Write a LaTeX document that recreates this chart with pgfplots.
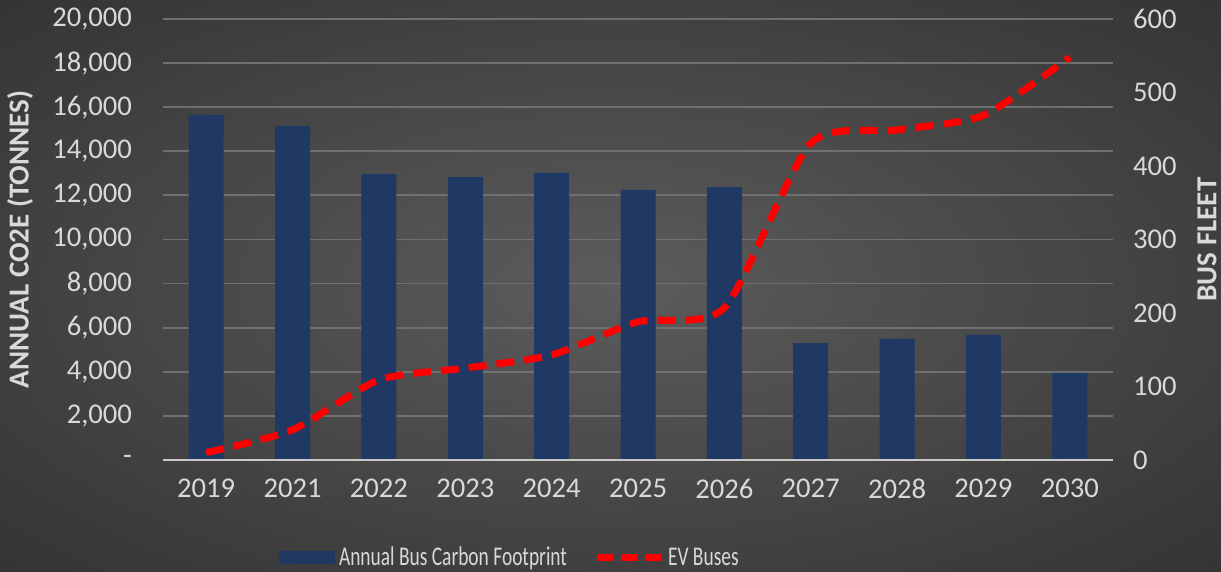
\documentclass[border=0pt]{standalone}
\usepackage{pgfplots}
\pgfplotsset{compat=1.18}
\usepackage{fontspec}
\setmainfont{Carlito}
\newfontfamily\legfont[FakeStretch=0.72]{Carlito}
\definecolor{navy}{RGB}{31,56,100}
\definecolor{txt}{RGB}{217,217,217}
\definecolor{gridc}{RGB}{112,112,112}
\definecolor{axc}{RGB}{200,200,200}
\definecolor{bgin}{RGB}{92,92,92}
\definecolor{bgmid}{RGB}{60,60,60}
\definecolor{bgout}{RGB}{32,32,32}
\definecolor{evred}{RGB}{255,0,0}
\pgfdeclareradialshading{bgshade}{\pgfpoint{0bp}{0bp}}{color(0bp)=(bgin); color(28bp)=(bgmid); color(50bp)=(bgout!80!bgmid); color(72bp)=(bgout)}
\begin{document}
\begin{tikzpicture}
\path[shading=bgshade] (0,0) rectangle (610.5pt,286pt);
\useasboundingbox (0,0) rectangle (610.5pt,286pt);
\begin{axis}[
  at={(81.5pt,56pt)}, anchor=south west,
  width=475pt, height=220.5pt, scale only axis,
  xmin=-0.5, xmax=10.5, ymin=0, ymax=20000,
  scaled y ticks=false,
  axis line style={draw=none},
  major tick length=0pt,
  xtick={0,...,10},
  xticklabels={\mbox{2019},\mbox{2021},\mbox{2022},\mbox{2023},\mbox{2024},\mbox{2025},\mbox{2026},\mbox{2027},\mbox{2028},\mbox{2029},\mbox{2030}},
  ytick={0,2000,...,20000},
  yticklabels={\mbox{-},\mbox{2,000},\mbox{4,000},\mbox{6,000},\mbox{8,000},\mbox{10,000},\mbox{12,000},\mbox{14,000},\mbox{16,000},\mbox{18,000},\mbox{20,000}},
  ymajorgrids, grid style={gridc, line width=0.9pt},
  tick label style={text=txt, font=\fontsize{14.3}{15}\selectfont},
  xticklabel style={yshift=-6pt},
  yticklabel style={xshift=-12pt},
  ylabel={ANNUAL CO2E (TONNES)},
  ylabel style={at={(axis description cs:-0.1505,0.5)}, anchor=center, text=txt, font=\bfseries\fontsize{14.5}{15}\selectfont},
  clip=false,
]
\addplot[ybar, bar width=17.5pt, fill=navy, draw=none] coordinates {
(0,15650) (1,15150) (2,12970) (3,12830) (4,13020) (5,12250) (6,12380) (7,5300) (8,5490) (9,5670) (10,3950)};
\draw[axc, line width=1.3pt] (axis cs:-0.5,0) -- (axis cs:10.5,0);
\end{axis}
\begin{axis}[
  at={(81.5pt,56pt)}, anchor=south west,
  width=475pt, height=220.5pt, scale only axis,
  xmin=-0.5, xmax=10.5, ymin=0, ymax=600,
  scaled y ticks=false,
  axis line style={draw=none},
  axis y line*=right,
  major tick length=0pt,
  xtick=\empty,
  ytick={0,100,...,600},
  yticklabels={\mbox{0},\mbox{100},\mbox{200},\mbox{300},\mbox{400},\mbox{500},\mbox{600}},
  tick label style={text=txt, font=\fontsize{14.3}{15}\selectfont},
  yticklabel style={xshift=6.5pt},
  ylabel={BUS FLEET},
  ylabel style={at={(axis description cs:1.099,0.5)}, anchor=center, text=txt, font=\bfseries\fontsize{14.5}{15}\selectfont},
  legend style={at={(0.1156,-0.222)}, anchor=west, draw=none, fill=none, legend columns=2, text=txt,
    font=\legfont\fontsize{13.5}{15}\selectfont, /tikz/every even column/.append style={column sep=11pt}},
  clip=false,
]
\addlegendimage{legend image code/.code={\fill[navy] (0pt,-3pt) rectangle (27.5pt,3pt);}}
\addlegendentry{Annual Bus Carbon Footprint}
\addlegendimage{legend image code/.code={\draw[evred, line width=3.5pt, dash pattern=on 8pt off 4pt] (0pt,0pt) -- (32pt,0pt);}}
\addlegendentry{EV Buses}
\addplot[evred, line width=3.5pt, dash pattern=on 9pt off 5pt, smooth, tension=0.4, forget plot] coordinates {
(0,10) (1,41) (2,109) (3,125) (4,143) (5,188) (6,207) (7,431) (8,449) (9,469) (10,548)};
\end{axis}
\end{tikzpicture}
\end{document}
